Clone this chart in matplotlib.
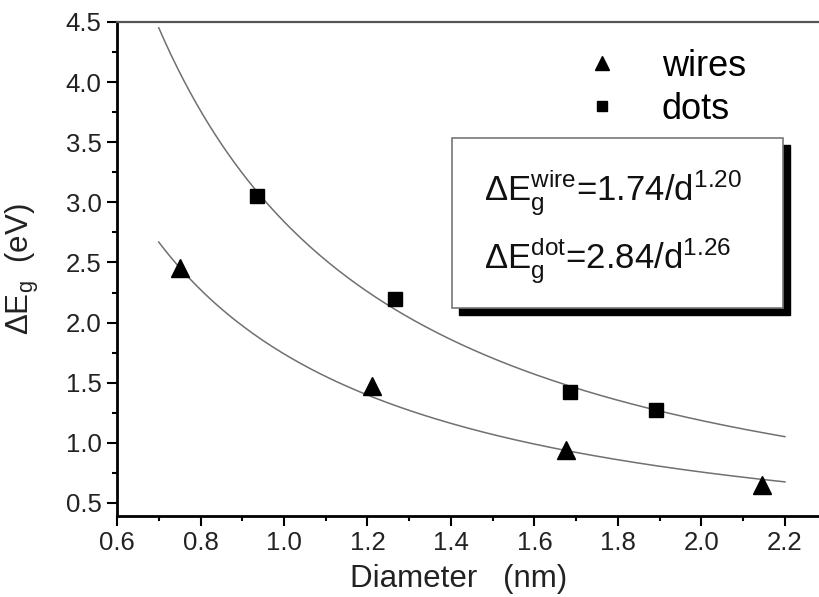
import matplotlib.pyplot as plt
import numpy as np
from matplotlib.patches import Rectangle
from matplotlib.ticker import MultipleLocator

plt.rcParams['font.family'] = ['Liberation Sans', 'DejaVu Sans']
plt.rcParams['mathtext.fontset'] = 'custom'
plt.rcParams['mathtext.rm'] = 'Liberation Sans'
plt.rcParams['mathtext.it'] = 'Liberation Sans'
plt.rcParams['mathtext.default'] = 'regular'

# measured points
wire_d = [0.75, 1.21, 1.675, 2.145]
wire_e = [2.45, 1.47, 0.94, 0.65]
dot_d = [0.935, 1.265, 1.685, 1.89]
dot_e = [3.05, 2.20, 1.42, 1.27]

# fit parameters printed on the chart: dE = a / d^b
wire_fit = (1.74, 1.20)
dot_fit = (2.84, 1.26)
fit_range = (0.7, 2.2)

fig = plt.figure(figsize=(8.2, 5.97), dpi=100)
ax = fig.add_axes([0.1427, 0.1357, 0.8573, 0.8275])

d = np.linspace(fit_range[0], fit_range[1], 200)
ax.plot(d, wire_fit[0] / d ** wire_fit[1], color='#707070', lw=1.1, zorder=2)
ax.plot(d, dot_fit[0] / d ** dot_fit[1], color='#707070', lw=1.1, zorder=2)

ax.plot(wire_d, wire_e, linestyle='none', marker='^', ms=13, color='black',
        label='wires', zorder=3)
ax.plot(dot_d, dot_e, linestyle='none', marker='s', ms=10, color='black',
        label='dots', zorder=3)

ax.set_xlim(0.6, 2.284)
ax.set_ylim(0.392, 4.5)
ax.xaxis.set_minor_locator(MultipleLocator(0.1))
ax.yaxis.set_minor_locator(MultipleLocator(0.25))
ax.set_xticks(np.arange(0.6, 2.21, 0.2))
ax.set_xticklabels(['%.1f' % v for v in np.arange(0.6, 2.21, 0.2)])
ax.set_yticks(np.arange(0.5, 4.51, 0.5))
ax.set_yticklabels(['%.1f' % v for v in np.arange(0.5, 4.51, 0.5)])

ax.spines['right'].set_visible(False)
ax.spines['top'].set_color('#555555')
ax.spines['top'].set_linewidth(1.6)
ax.spines['left'].set_linewidth(2)
ax.spines['bottom'].set_linewidth(2)
ax.tick_params(which='major', direction='out', length=7, width=1.5,
               labelsize=18.5, pad=4, colors='black')
ax.tick_params(which='minor', direction='out', length=3.5, width=1.5)
for lab in ax.get_xticklabels() + ax.get_yticklabels():
    lab.set_color('#222222')

ax.set_xlabel('Diameter   (nm)', fontsize=22.5, color='#222222')
ax.xaxis.set_label_coords(0.4865, -0.098)
ax.set_ylabel('ΔE$_g$  (eV)', fontsize=22.5, color='#222222')
ax.yaxis.set_label_coords(-0.108, 0.50)

ax.legend(loc='upper left', bbox_to_anchor=(584 / 820, 1 - 49 / 597),
          bbox_transform=fig.transFigure, frameon=False, fontsize=26,
          handlelength=1.0, handletextpad=1.15, labelspacing=0.22,
          borderpad=0, borderaxespad=0, numpoints=1, markerscale=0.75)

# formula box with shadow
ax.add_patch(Rectangle((0.4865, 0.407), 0.4705, 0.344, transform=ax.transAxes,
                       facecolor='black', edgecolor='black', zorder=4))
ax.add_patch(Rectangle((0.4765, 0.421), 0.4705, 0.344, transform=ax.transAxes,
                       facecolor='white', edgecolor='#777777', lw=1.2, zorder=5))
ax.text(0.5215, 0.6356, 'ΔE$_g^{wire}$=1.74/d$^{1.20}$', transform=ax.transAxes,
        fontsize=25, va='baseline', ha='left', color='#111111', zorder=6)
ax.text(0.5215, 0.498, 'ΔE$_g^{dot}$=2.84/d$^{1.26}$', transform=ax.transAxes,
        fontsize=25, va='baseline', ha='left', color='#111111', zorder=6)

fig.savefig('out.png', dpi=100)
